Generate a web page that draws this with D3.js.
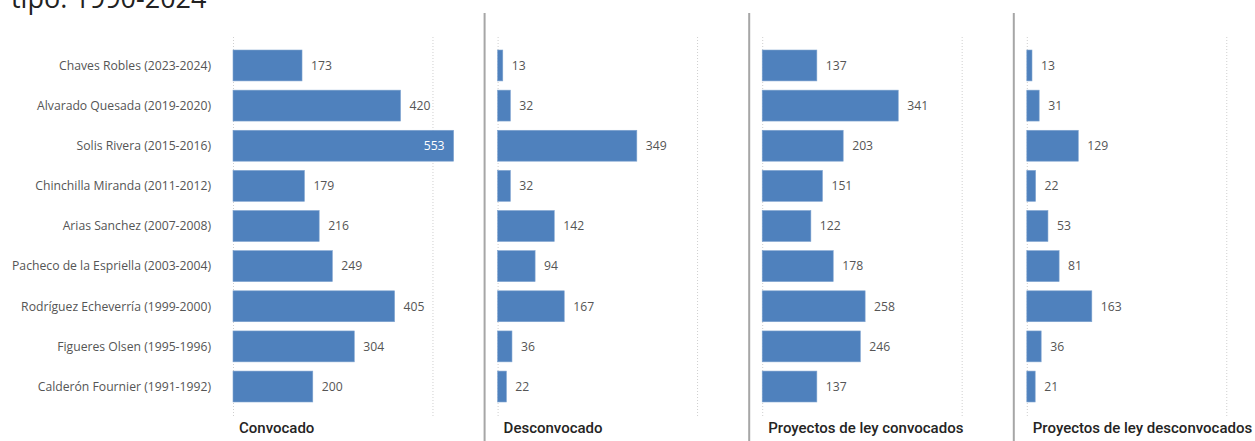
<!DOCTYPE html>
<html>
<head>
<meta charset="utf-8">
<script src="https://cdn.jsdelivr.net/npm/d3@7"></script>
<style>
  html, body { margin: 0; padding: 0; background: #fff; }
  svg { display: block; }
</style>
</head>
<body>
<svg id="chart" width="1255" height="441"></svg>
<script>
// Administrations (rows, top to bottom)
const categories = [
  "Chaves Robles (2023-2024)",
  "Alvarado Quesada (2019-2020)",
  "Solis Rivera (2015-2016)",
  "Chinchilla Miranda (2011-2012)",
  "Arias Sanchez (2007-2008)",
  "Pacheco de la Espriella (2003-2004)",
  "Rodríguez Echeverría (1999-2000)",
  "Figueres Olsen (1995-1996)",
  "Calderón Fournier (1991-1992)"
];

// One series per small multiple
const convocado = [173, 420, 553, 179, 216, 249, 405, 304, 200];
const desconvocado = [13, 32, 349, 32, 142, 94, 167, 36, 22];
const proyectosConvocados = [137, 341, 203, 151, 122, 178, 258, 246, 137];
const proyectosDesconvocados = [13, 31, 129, 22, 53, 81, 163, 36, 21];

const panelTitles = [
  "Convocado",
  "Desconvocado",
  "Proyectos de ley convocados",
  "Proyectos de ley desconvocados"
];
const gridTicks = [0, 500];

const title = "tipo: 1990-2024";

const seriesList = [convocado, desconvocado, proyectosConvocados, proyectosDesconvocados];

const svg = d3.select("#chart");
const barColor = "#4f81bd";

// Layout
const firstPanelX = 233;
const panelStep = 264.6;
const plotWidth = 252;

// Shared value scale across panels
const maxValue = d3.max(seriesList.flat());
const x = d3.scaleLinear().domain([0, maxValue]).range([0, 220.6]);

const y = d3.scaleBand()
  .domain(categories)
  .range([45.4, 406.6])
  .paddingInner(0.23)
  .paddingOuter(0.115);

// Title (partly above the visible area)
svg.append("text")
  .attr("x", 11)
  .attr("y", 8)
  .attr("font-family", "'Open Sans', sans-serif")
  .attr("font-size", 27)
  .attr("fill", "#222")
  .text(title);

// Category labels
svg.append("g")
  .selectAll("text")
  .data(categories)
  .join("text")
  .attr("x", 211)
  .attr("y", d => y(d) + y.bandwidth() / 2)
  .attr("dy", "0.35em")
  .attr("text-anchor", "end")
  .attr("font-family", "'Open Sans', sans-serif")
  .attr("font-size", 12.2)
  .attr("fill", "#555")
  .text(d => d);

seriesList.forEach((values, i) => {
  const ox = firstPanelX + i * panelStep;
  const g = svg.append("g").attr("transform", `translate(${ox},0)`);

  // Divider between panels
  if (i > 0) {
    svg.append("line")
      .attr("x1", ox - 13).attr("x2", ox - 13)
      .attr("y1", 13).attr("y2", 441)
      .attr("stroke", "#a6a6a6")
      .attr("stroke-width", 2);
  }

  // Dotted gridlines
  g.append("g")
    .selectAll("line")
    .data(gridTicks)
    .join("line")
    .attr("x1", d => x(d) + 0.5).attr("x2", d => x(d) + 0.5)
    .attr("y1", 37).attr("y2", 418)
    .attr("stroke", "#cfcfcf")
    .attr("stroke-width", 1)
    .attr("stroke-dasharray", "1,2");

  const rows = categories.map((c, j) => ({ c, v: values[j] }));

  // Bars
  g.append("g")
    .selectAll("rect")
    .data(rows)
    .join("rect")
    .attr("x", 0)
    .attr("y", d => y(d.c))
    .attr("width", d => x(d.v))
    .attr("height", y.bandwidth())
    .attr("fill", barColor)
    .attr("stroke", "#7ea3cf")
    .attr("stroke-width", 0.6);

  // Value labels: outside the bar unless it would not fit
  g.append("g")
    .selectAll("text")
    .data(rows)
    .join("text")
    .each(function (d) {
      const label = String(d.v);
      const w = label.length * 7.1;
      const inside = x(d.v) + 9 + w > plotWidth - 10;
      d3.select(this)
        .attr("x", inside ? x(d.v) - 9 : x(d.v) + 9)
        .attr("text-anchor", inside ? "end" : "start")
        .attr("fill", inside ? "#ffffff" : "#555");
    })
    .attr("y", d => y(d.c) + y.bandwidth() / 2)
    .attr("dy", "0.35em")
    .attr("font-family", "'Open Sans', sans-serif")
    .attr("font-size", 12.2)
    .text(d => d.v);

  // Panel title below
  g.append("text")
    .attr("x", 6)
    .attr("y", 433)
    .attr("font-family", "Roboto, sans-serif")
    .attr("font-weight", 500)
    .attr("font-size", 15)
    .attr("fill", "#252423")
    .text(panelTitles[i]);
});
</script>
</body>
</html>
